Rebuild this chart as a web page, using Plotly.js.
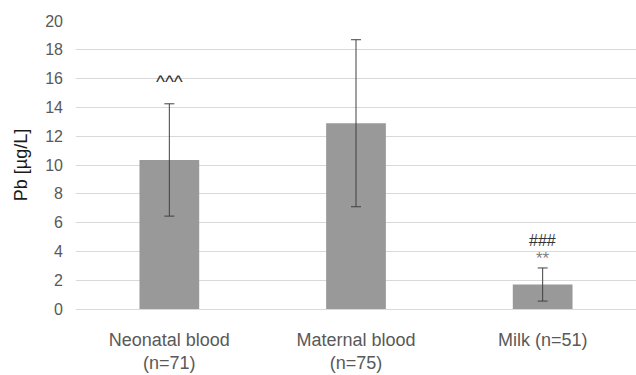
<!DOCTYPE html>
<html>
<head>
<meta charset="utf-8">
<script src="https://cdn.plot.ly/plotly-3.0.1.min.js"></script>
<style>html,body{margin:0;padding:0;background:#fff;}#chart{width:636px;height:375px;}</style>
</head>
<body>
<div id="chart"></div>
<script>
const categories = ["Neonatal blood<br>(n=71)", "Maternal blood<br>(n=75)", "Milk (n=51)"];
const means = [10.35, 12.9, 1.7];
const sds = [3.9, 5.8, 1.15];
const yTicks = [0, 2, 4, 6, 8, 10, 12, 14, 16, 18, 20];

const font = "'Liberation Sans', Arial, Helvetica, sans-serif";

const trace = {
  type: 'bar',
  x: categories,
  y: means,
  marker: {color: '#999999'},
  error_y: {type: 'data', array: sds, visible: true, color: '#404040', thickness: 1, width: 5},
  hoverinfo: 'none'
};

const annotations = [
  {x: categories[0], y: means[0] + sds[0], text: '^^^', yshift: 22, font: {size: 19, color: '#333333'}},
  {x: categories[2], y: means[2] + sds[2], text: '**', yshift: 9, font: {size: 17, color: '#7f7f7f'}},
  {x: categories[2], y: means[2] + sds[2], text: '###', yshift: 27, font: {size: 16, color: '#333333'}}
].map(a => Object.assign({xref: 'x', yref: 'y', showarrow: false, yanchor: 'middle'}, a));

const layout = {
  width: 636, height: 375,
  margin: {l: 76, r: 0, t: 21, b: 65.5},
  paper_bgcolor: '#ffffff', plot_bgcolor: '#ffffff',
  font: {family: font, size: 16, color: '#595959'},
  bargap: 0.68,
  showlegend: false,
  xaxis: {
    showgrid: false, zeroline: false, showline: false, ticks: '',
    automargin: false, ticklabelstandoff: 18,
    tickfont: {size: 18, color: '#595959', family: font}
  },
  yaxis: {
    range: [0, 20], tickvals: yTicks, ticktext: yTicks.map(String),
    showgrid: true, gridcolor: '#d9d9d9', gridwidth: 1,
    zeroline: true, zerolinecolor: '#d9d9d9', zerolinewidth: 1,
    showline: false, ticks: '', ticklen: 0,
    automargin: false, ticklabelstandoff: 12,
    tickfont: {size: 16, color: '#595959', family: font},
    title: {text: 'Pb [µg/L]', font: {size: 18, color: '#1a1a1a', family: font}, standoff: 12}
  },
  annotations: annotations
};

Plotly.newPlot('chart', [trace], layout, {staticPlot: true, displayModeBar: false});
</script>
</body>
</html>
